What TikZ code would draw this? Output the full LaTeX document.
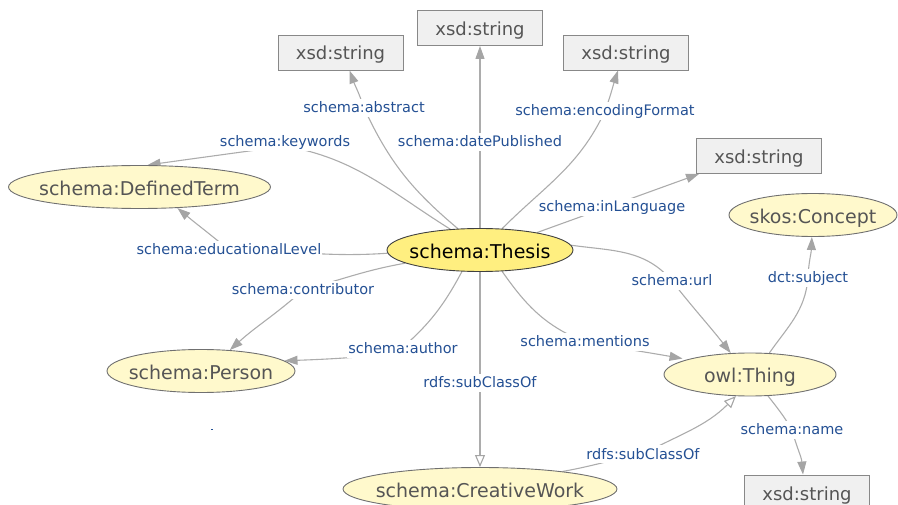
\documentclass[tikz,border=0pt]{standalone}
\usepackage{fontspec}
\setmainfont{DejaVu Sans}
\usetikzlibrary{shapes.geometric,arrows.meta}
\pgfdeclarelayer{edges}
\pgfsetlayers{edges,main}

\definecolor{edgecol}{RGB}{172,172,172}
\definecolor{tipcol}{RGB}{165,165,165}
\definecolor{labcol}{RGB}{36,80,148}
\definecolor{classfill}{RGB}{255,249,204}
\definecolor{mainfill}{RGB}{255,239,128}
\definecolor{classline}{RGB}{112,112,112}
\definecolor{classtext}{RGB}{85,85,85}
\definecolor{boxfill}{RGB}{240,240,240}
\definecolor{boxline}{RGB}{136,136,136}

\begin{document}
\begin{tikzpicture}[x=1pt,y=-1pt,
  cls/.style={ellipse, draw=classline, fill=classfill, line width=0.9pt,
    inner sep=0pt, minimum height=43pt, text=classtext,
    font=\fontsize{19}{19}\selectfont, text height=18pt, text depth=1pt},
  mainclass/.style={cls, fill=mainfill, draw=black!75, text=black},
  lit/.style={rectangle, draw=boxline, fill=boxfill, line width=0.9pt,
    minimum width=125pt, minimum height=35pt, inner sep=0pt, text=classtext,
    font=\fontsize{18}{18}\selectfont, text height=17pt, text depth=2pt},
  prop/.style={fill=white, text=labcol, inner xsep=1pt, inner ysep=2pt,
    font=\fontsize{14.5}{14.5}\selectfont, text height=12pt, text depth=2pt},
  edge/.style={draw=edgecol, line width=1.1pt,
    -{Triangle[length=13pt,width=9pt,fill=tipcol,color=tipcol]}},
  sub/.style={draw=edgecol, line width=1.1pt,
    -{Triangle[open,length=12pt,width=10pt,fill=white,color=tipcol]}},
]
\useasboundingbox (0,0) rectangle (898,505);

% classes
\node[mainclass, minimum width=186pt] (thesis) at (480,250) {\makebox[0pt]{schema:Thesis}};
\node[cls, minimum width=262pt] (dt) at (139.5,187) {\makebox[0pt]{schema:DefinedTerm}};
\node[cls, minimum width=188pt] (person) at (201,371) {\makebox[0pt]{schema:Person}};
\node[cls, minimum width=274pt] (cw) at (480,489) {\makebox[0pt]{schema:CreativeWork}};
\node[cls, minimum width=172pt] (thing) at (750,374.5) {\makebox[0pt]{owl:Thing}};
\node[cls, minimum width=168pt] (skos) at (813,215) {\makebox[0pt]{skos:Concept}};

% literal datatypes
\node[lit] (abs) at (340.5,52.5) {xsd:string};
\node[lit] (dp)  at (480,28) {xsd:string};
\node[lit] (enc) at (626,52.5) {xsd:string};
\node[lit] (inl) at (759,156) {xsd:string};
\node[lit] (nm)  at (807,492.5) {xsd:string};

% property labels
\node[prop] (lababs)  at (364,108) {schema:abstract};
\node[prop] (labkw)   at (285,142) {schema:keywords};
\node[prop] (labdp)   at (480,142) {schema:datePublished};
\node[prop] (labenc)  at (605,111) {schema:encodingFormat};
\node[prop] (labinl)  at (612,207) {schema:inLanguage};
\node[prop] (laburl)  at (672,281) {schema:url};
\node[prop] (labdct)  at (808,278) {dct:subject};
\node[prop] (labedu)  at (229,250) {schema:educationalLevel};
\node[prop] (labcon)  at (303,290) {schema:contributor};
\node[prop] (labauth) at (403,349) {schema:author};
\node[prop] (labsub1) at (480,383) {rdfs:subClassOf};
\node[prop] (labmen)  at (585,342) {schema:mentions};
\node[prop] (labsub2) at (643,454) {rdfs:subClassOf};
\node[prop] (labname) at (792,430) {schema:name};

% stray mark
\fill[labcol] (211.2,428.6) rectangle (212.8,430.2);

\begin{pgfonlayer}{edges}
\draw[edge] (thesis.136) to[out=140,in=-65] (lababs.center)
            to[out=108,in=-70] ([xshift=9pt]abs.south);
\draw[edge] (thesis.145) to[out=148,in=-10] ([yshift=-4pt]labkw.center)
            to[out=188,in=8] ([xshift=8pt]dt.north);
\draw[edge] (thesis.north) -- (dp.south);
\draw[edge] (thesis.44) to[out=45,in=-115] (labenc.center)
            to[out=70,in=-108] ([xshift=-8pt]enc.south);
\draw[edge] (thesis.17) -- ([xshift=3pt]inl.south west);
\draw[edge] (thesis.3) to[out=-8,in=130] (laburl.center)
            to[out=-52,in=128] (thing.132);
\draw[edge] (thing.48) to[out=55,in=-95] (labdct.center)
            to[out=88,in=-92] (skos.-93);
\draw[edge] (thesis.-44) to[out=-55,in=158] (labmen.center)
            to[out=-10,in=170] ([xshift=-8pt]thing.165);
\draw[edge] (thesis.-130) to[out=-118,in=40] ([xshift=-8pt,yshift=-5pt]labauth.center)
            to[out=185,in=2] (person.7);
\draw[edge] (thesis.-170) to[out=190,in=15] (labcon.center)
            to[out=222,in=42] (person.36);
\draw[edge] (thesis.182) to[out=184,in=0] (labedu.center)
            to[out=140,in=-40] (dt.-29);
\draw[sub] (thesis.south) -- (cw.north);
\draw[sub] (cw.12) to[out=10,in=190] (labsub2.center)
           to[out=28,in=-135] (thing.-123);
\draw[edge] (thing.-50) to[out=-52,in=120] (labname.center)
            to[out=-75,in=95] ([xshift=-4pt]nm.north);
\end{pgfonlayer}
\end{tikzpicture}
\end{document}
